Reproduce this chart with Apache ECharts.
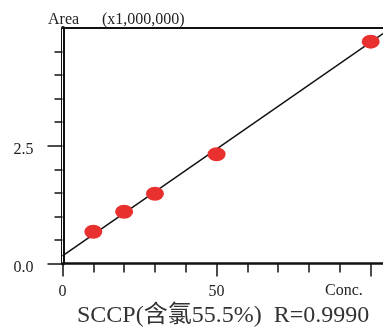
<!DOCTYPE html>
<html>
<head>
<meta charset="utf-8">
<script src="https://cdn.jsdelivr.net/npm/echarts@6/dist/echarts.min.js"></script>
<style>
    html, body { margin: 0; padding: 0; background: #fff; }
    #calibration { width: 383px; height: 328px; }
</style>
</head>
<body>
<div id="calibration"></div>
<script>
// 标准曲线数据
var concValues = [10, 20, 30, 50, 100];
var areaValues = [0.675, 1.10, 1.48, 2.32, 4.71];
var fitLine = [[0, 0.16], [104, 4.88]];
var xMajorTicks = [0, 50, 100];
var xMinorTicks = [10, 20, 30, 40, 60, 70, 80, 90];
var xTickLabels = ['0', '50'];
var yMajorTicks = [0, 2.5];
var yTickLabels = ['0.0', '2.5'];
var titleText = 'SCCP(含氯55.5%)  R=0.9990';

var FONT = "'Liberation Serif', 'Noto Sans CJK SC', serif";

var dom = document.getElementById('calibration');
var myChart = echarts.init(dom);

var points = concValues.map(function (c, i) { return [c, areaValues[i]]; });

var option = {
    animation: false,
    grid: {
        left: 62.5,
        top: 28,
        right: 0,
        height: 235.5,
        containLabel: false
    },
    xAxis: [{
        // 底部轴线 + 小刻度
        type: 'value',
        position: 'bottom',
        min: 0,
        max: 104,
        interval: 10,
        axisLine: { show: true, onZero: false, lineStyle: { color: '#111', width: 2.5 } },
        axisTick: { show: true, length: 9, customValues: xMinorTicks, lineStyle: { color: '#111', width: 1.5 } },
        axisLabel: { show: false },
        splitLine: { show: false }
    }, {
        type: 'value',
        position: 'top',
        min: 0,
        max: 104,
        axisLine: { show: true, onZero: false, lineStyle: { color: '#111', width: 2 } },
        axisTick: { show: false },
        axisLabel: { show: false },
        splitLine: { show: false }
    }, {
        // 大刻度和标签
        type: 'value',
        position: 'bottom',
        min: 0,
        max: 104,
        interval: 50,
        axisLine: { show: false, onZero: false },
        axisTick: { show: true, length: 13, customValues: xMajorTicks, lineStyle: { color: '#111', width: 1.5 } },
        splitLine: { show: false },
        axisLabel: {
            margin: 20,
            fontFamily: FONT,
            fontSize: 16,
            color: '#222',
            customValues: [0, 50],
            formatter: function (v) {
                var idx = [0, 50].indexOf(v);
                return idx >= 0 ? xTickLabels[idx] : '';
            }
        }
    }],
    yAxis: [{
        type: 'value',
        min: 0,
        max: 5,
        interval: 2.5,
        axisLine: { show: true, onZero: false, lineStyle: { color: '#111', width: 4 } },
        axisTick: { show: true, length: 15, customValues: yMajorTicks, lineStyle: { color: '#111', width: 1.5 } },
        minorTick: { show: true, splitNumber: 5, length: 8, lineStyle: { color: '#111', width: 1.5 } },
        splitLine: { show: false },
        axisLabel: {
            margin: 29,
            fontFamily: FONT,
            fontSize: 16,
            color: '#222',
            verticalAlign: 'top',
            lineHeight: 8,
            formatter: function (v) {
                var idx = yMajorTicks.indexOf(v);
                return idx >= 0 ? yTickLabels[idx] : '';
            }
        }
    }, {
        // 双线坐标轴的白色中线
        type: 'value',
        position: 'left',
        offset: 0,
        min: 0,
        max: 5,
        axisLine: { show: true, onZero: false, lineStyle: { color: '#fff', width: 1 } },
        axisTick: { show: false },
        axisLabel: { show: false },
        splitLine: { show: false }
    }],
    graphic: [{
        type: 'text',
        left: 48,
        top: 12,
        style: { text: 'Area', fontFamily: FONT, fontSize: 16, fill: '#222' }
    }, {
        type: 'text',
        left: 102,
        top: 12,
        style: { text: '(x1,000,000)', fontFamily: FONT, fontSize: 16, fill: '#222' }
    }, {
        type: 'text',
        left: 325,
        top: 283,
        style: { text: 'Conc.', fontFamily: FONT, fontSize: 16, fill: '#222' }
    }, {
        type: 'text',
        left: 77,
        top: 304,
        style: { text: titleText, fontFamily: FONT, fontSize: 24, fill: '#333' }
    }],
    series: [{
        name: 'fit',
        type: 'line',
        data: fitLine,
        symbol: 'none',
        clip: true,
        lineStyle: { color: '#111', width: 1.5 },
        z: 2
    }, {
        name: 'SCCP',
        type: 'scatter',
        data: points,
        symbol: 'circle',
        symbolSize: [18, 14],
        itemStyle: { color: '#e8302e', opacity: 1 },
        z: 3
    }]
};

if (option && typeof option === "object") {
    myChart.setOption(option, true);
}
</script>
</body>
</html>
